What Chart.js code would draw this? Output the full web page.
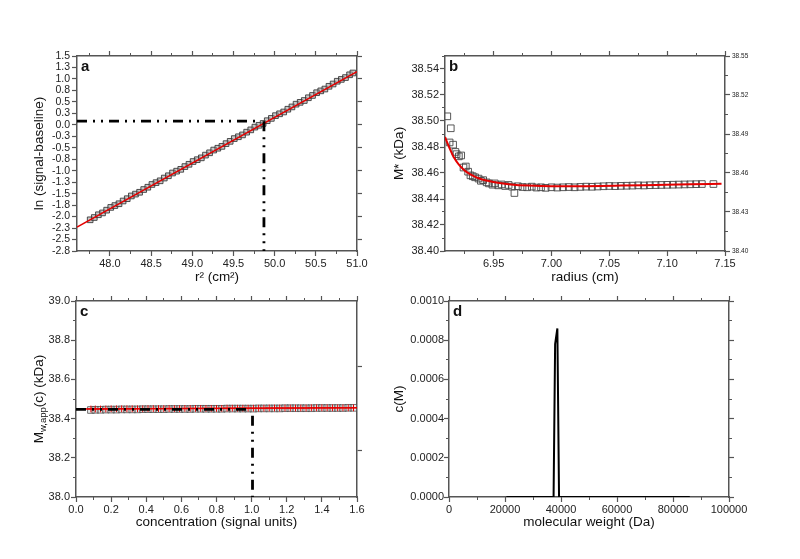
<!DOCTYPE html>
<html>
<head>
<meta charset="utf-8">
<script src="https://cdn.jsdelivr.net/npm/chart.js@4.4.1/dist/chart.umd.min.js"></script>
<style>
  html, body { margin: 0; padding: 0; background: #fff; }
  body { width: 800px; height: 559px; position: relative; overflow: hidden; }
  canvas { position: absolute; }
</style>
</head>
<body>
<canvas id="panelA" width="400" height="265" style="left:0;top:30px"></canvas>
<canvas id="panelB" width="420" height="265" style="left:380px;top:30px"></canvas>
<canvas id="panelC" width="400" height="274" style="left:0;top:285px"></canvas>
<canvas id="panelD" width="420" height="274" style="left:380px;top:285px"></canvas>
<script>
// panel a : ln(signal-baseline) vs r^2
const r2 = [47.76, 47.81, 47.86, 47.91, 47.96, 48.01, 48.06, 48.11, 48.16, 48.21,
  48.26, 48.31, 48.36, 48.41, 48.46, 48.51, 48.56, 48.61, 48.66, 48.71,
  48.76, 48.81, 48.86, 48.91, 48.96, 49.01, 49.06, 49.11, 49.16, 49.21,
  49.26, 49.31, 49.36, 49.41, 49.46, 49.51, 49.56, 49.61, 49.66, 49.71,
  49.76, 49.81, 49.86, 49.91, 49.96, 50.01, 50.06, 50.11, 50.16, 50.21,
  50.26, 50.31, 50.36, 50.41, 50.46, 50.51, 50.56, 50.61, 50.66, 50.71,
  50.76, 50.81, 50.86, 50.91, 50.95];
const lnSignal = [-2.07, -2.02, -1.96, -1.92, -1.86, -1.80, -1.76, -1.72, -1.66, -1.61,
  -1.55, -1.51, -1.47, -1.41, -1.36, -1.30, -1.26, -1.22, -1.16, -1.11,
  -1.05, -1.01, -0.97, -0.91, -0.86, -0.80, -0.76, -0.72, -0.66, -0.61,
  -0.55, -0.51, -0.47, -0.41, -0.36, -0.30, -0.26, -0.22, -0.16, -0.11,
  -0.05, -0.01, 0.03, 0.09, 0.14, 0.20, 0.24, 0.28, 0.34, 0.39,
  0.45, 0.49, 0.53, 0.59, 0.64, 0.70, 0.74, 0.78, 0.84, 0.89,
  0.95, 0.99, 1.03, 1.09, 1.13];
const r2Fit = [47.6, 51.0];
const lnFit = [-2.23, 1.16];
const r2GuideH = [47.6, 49.83], lnGuideH = [0.08, 0.08];
const r2GuideV = [49.87, 49.87], lnGuideV = [0.08, -2.75];

// panel b : M* vs radius
const radius = [6.910, 6.912, 6.913, 6.915, 6.917, 6.918, 6.920, 6.922, 6.924, 6.926,
  6.928, 6.930, 6.932, 6.934, 6.937, 6.939, 6.941, 6.944, 6.946, 6.949,
  6.951, 6.954, 6.957, 6.960, 6.963, 6.966, 6.968, 6.971, 6.975, 6.979,
  6.983, 6.987, 6.991, 6.995, 7.000, 7.005, 7.010, 7.015, 7.020, 7.025,
  7.030, 7.035, 7.040, 7.045, 7.050, 7.055, 7.060, 7.065, 7.070, 7.075,
  7.080, 7.085, 7.090, 7.095, 7.100, 7.105, 7.110, 7.115, 7.120, 7.125,
  7.130, 7.140];
const mStar = [38.5036, 38.4835, 38.4944, 38.4818, 38.4762, 38.4745, 38.4728, 38.4735, 38.4642, 38.4650,
  38.4610, 38.4582, 38.4575, 38.4567, 38.4557, 38.4540, 38.4545, 38.4528, 38.4520, 38.4510,
  38.4520, 38.4505, 38.4512, 38.4500, 38.4508, 38.4495, 38.4446, 38.4498, 38.4492, 38.4490,
  38.4495, 38.4488, 38.4490, 38.4486, 38.4490, 38.4488, 38.4490, 38.4492, 38.4490, 38.4493,
  38.4495, 38.4494, 38.4496, 38.4498, 38.4500, 38.4499, 38.4501, 38.4502, 38.4503, 38.4505,
  38.4504, 38.4506, 38.4507, 38.4508, 38.4509, 38.4510, 38.4511, 38.4512, 38.4513, 38.4514,
  38.4515, 38.4515];
const radiusFit = [6.908, 6.912, 6.916, 6.920, 6.925, 6.930, 6.937, 6.945, 6.955,
  6.965, 6.980, 7.000, 7.030, 7.060, 7.090, 7.120, 7.147];
const mStarFit = [38.4877, 38.4790, 38.4715, 38.4665, 38.4620, 38.4590, 38.4560, 38.4540, 38.4523,
  38.4512, 38.4503, 38.4498, 38.4499, 38.4503, 38.4508, 38.4513, 38.4517];

// panel c : Mw,app(c) vs concentration
const conc = [0.085, 0.11, 0.14, 0.17, 0.20, 0.23, 0.26, 0.29, 0.32, 0.35,
  0.38, 0.41, 0.44, 0.47, 0.50, 0.53, 0.56, 0.59, 0.62, 0.65,
  0.68, 0.71, 0.74, 0.77, 0.80, 0.83, 0.86, 0.89, 0.92, 0.95,
  0.98, 1.01, 1.04, 1.07, 1.10, 1.13, 1.16, 1.19, 1.22, 1.25,
  1.28, 1.31, 1.34, 1.37, 1.40, 1.43, 1.46, 1.49, 1.52, 1.55, 1.58];
const mwApp = [38.444, 38.445, 38.445, 38.446, 38.446, 38.446, 38.447, 38.447, 38.447, 38.447,
  38.448, 38.448, 38.448, 38.448, 38.448, 38.449, 38.449, 38.449, 38.449, 38.449,
  38.450, 38.450, 38.450, 38.450, 38.450, 38.450, 38.451, 38.451, 38.451, 38.451,
  38.451, 38.451, 38.452, 38.452, 38.452, 38.452, 38.452, 38.453, 38.453, 38.453,
  38.453, 38.453, 38.453, 38.454, 38.454, 38.454, 38.454, 38.454, 38.454, 38.455, 38.455];
const mwAppCross = [38.449, 38.449, 38.449, 38.449, 38.450, 38.450, 38.450, 38.450, 38.450, 38.450,
  38.450, 38.451, 38.451, 38.451, 38.451, 38.451, 38.451, 38.451, 38.452, 38.452,
  38.452, 38.452, 38.452, 38.452, 38.452, 38.452, 38.453, 38.453, 38.453, 38.453,
  38.453, 38.453, 38.453, 38.453, 38.454, 38.454, 38.454, 38.454, 38.454, 38.454,
  38.454, 38.454, 38.455, 38.455, 38.455, 38.455, 38.455, 38.455, 38.455, 38.455, 38.455];
const concFit = [0, 1.6], mwFit = [38.449, 38.455];
const concGuideH = [0, 1.0], mwGuideH = [38.447, 38.447];
const concGuideV = [1.005, 1.005], mwGuideV = [38.415, 38.0];

// panel d : c(M) distribution
const molWeight = [20500, 37350, 37900, 38700, 39300, 86000];
const cM = [0, 0, 0.00078, 0.00086, 0, 0];

const FONT = "'Liberation Sans', Arial, sans-serif";
const AXIS = '#555';
const RED = 'rgb(228,0,0)';

const pts = (xs, ys) => xs.map((x, i) => ({ x: x, y: ys[i] }));

// one labelled axis with long ticks, plus an inner one for the short minor ticks
function axes(id, pos, o) {
  const horiz = pos === 'top' || pos === 'bottom';
  const fit = size => s => { if (horiz) s.height = size; else s.width = size; };
  const res = {};
  res[id] = {
    type: 'linear', axis: horiz ? 'x' : 'y', position: pos, min: o.min, max: o.max, weight: 2,
    border: { color: AXIS, width: 1.5 },
    grid: { drawOnChartArea: false, tickLength: 5, tickColor: AXIS, tickWidth: 1.2 },
    ticks: {
      stepSize: o.major, includeBounds: false, autoSkip: false, maxRotation: 0,
      display: !!o.fmt, padding: o.pad || 0, color: '#222',
      font: { family: FONT, size: o.fontSize || 11 },
      callback: o.fmt || (() => ''),
    },
    title: o.title
      ? { display: true, text: o.title, color: '#111', font: { family: FONT, size: 13.5 }, padding: o.titlePad }
      : { display: false },
    afterFit: fit(o.size),
  };
  if (o.minor) {
    res[id + 'Minor'] = {
      type: 'linear', axis: horiz ? 'x' : 'y', position: pos, min: o.min, max: o.max, weight: 1,
      border: { display: false },
      grid: { drawOnChartArea: false, tickLength: 3, tickColor: AXIS, tickWidth: 1 },
      ticks: { stepSize: o.minor, includeBounds: false, display: false },
      afterFit: fit(0),
    };
  }
  return res;
}

const panelLetter = {
  id: 'panelLetter',
  afterDraw(chart, args, opts) {
    const { ctx, chartArea } = chart;
    ctx.save();
    ctx.font = 'bold 15px ' + FONT;
    ctx.fillStyle = '#111';
    ctx.textBaseline = 'alphabetic';
    ctx.fillText(opts.text, chartArea.left + 4, chartArea.top + 15);
    ctx.restore();
  }
};

// y title of panel c needs a subscript
const mwTitle = {
  id: 'mwTitle',
  afterDraw(chart) {
    const { ctx, chartArea } = chart;
    const big = '13.5px ' + FONT, small = '9.5px ' + FONT;
    ctx.save();
    ctx.font = big;
    const w1 = ctx.measureText('M').width;
    const w3 = ctx.measureText('(c) (kDa)').width;
    ctx.font = small;
    const w2 = ctx.measureText('w,app').width;
    ctx.translate(39, (chartArea.top + chartArea.bottom) / 2);
    ctx.rotate(-Math.PI / 2);
    ctx.textBaseline = 'middle';
    ctx.fillStyle = '#111';
    let x = -(w1 + w2 + w3) / 2;
    ctx.font = big; ctx.fillText('M', x, 0); x += w1;
    ctx.font = small; ctx.fillText('w,app', x, 4); x += w2;
    ctx.font = big; ctx.fillText('(c) (kDa)', x, 0);
    ctx.restore();
  }
};

function makeChart(id, letter, datasets, scales, extra) {
  return new Chart(document.getElementById(id), {
    type: 'scatter',
    data: { datasets: datasets },
    options: {
      responsive: false, animation: false, devicePixelRatio: 1, events: [],
      layout: { padding: 0 },
      plugins: { legend: { display: false }, tooltip: { enabled: false }, panelLetter: { text: letter } },
      scales: scales,
    },
    plugins: [panelLetter].concat(extra || []),
  });
}

const guide = (xs, ys) => ({
  data: pts(xs, ys), showLine: true, pointRadius: 0, borderColor: '#000',
  borderWidth: 2.8, borderDash: [10, 6, 2, 6, 2, 6],
});

makeChart('panelA', 'a', [
  guide(r2GuideV, lnGuideV),
  guide(r2GuideH, lnGuideH),
  { data: pts(r2Fit, lnFit), showLine: true, pointRadius: 0, borderColor: RED, borderWidth: 1.6 },
  { data: pts(r2, lnSignal), pointStyle: 'rect', pointRadius: 4, borderWidth: 1,
    borderColor: 'rgba(50,50,50,0.85)', backgroundColor: 'rgba(165,165,165,0.6)' },
], Object.assign({},
  axes('x', 'bottom', { min: 47.6, max: 51, major: 0.5, minor: 0.25, size: 44, pad: 1,
    fmt: v => v.toFixed(1), title: 'r² (cm²)', titlePad: { top: 0, bottom: 10 } }),
  axes('top', 'top', { min: 47.6, max: 51, major: 0.5, minor: 0.25, size: 26 }),
  axes('y', 'left', { min: -2.75, max: 1.5, major: 0.25, size: 77, pad: 2, fontSize: 10.5,
    fmt: v => v.toFixed(1), title: 'ln (signal-baseline)', titlePad: { top: 31, bottom: 0 } }),
  axes('right', 'right', { min: -2.75, max: 1.5, major: 0.5, size: 43 })
));

makeChart('panelB', 'b', [
  { data: pts(radiusFit, mStarFit), showLine: true, pointRadius: 0, borderColor: RED,
    borderWidth: 2, cubicInterpolationMode: 'monotone' },
  { data: pts(radius, mStar), pointStyle: 'rect', pointRadius: 4.7, borderWidth: 1,
    borderColor: 'rgba(70,70,70,0.9)', backgroundColor: 'rgba(255,255,255,0)' },
], Object.assign({},
  axes('x', 'bottom', { min: 6.908, max: 7.15, major: 0.05, minor: 0.025, size: 44, pad: 1,
    fmt: v => v.toFixed(2), title: 'radius (cm)', titlePad: { top: 0, bottom: 10 } }),
  axes('top', 'top', { min: 6.908, max: 7.15, major: 0.05, minor: 0.025, size: 26 }),
  axes('y', 'left', { min: 38.40, max: 38.55, major: 0.02, minor: 0.01, size: 65, pad: 1,
    fmt: v => v.toFixed(2), title: 'M* (kDa)', titlePad: { top: 11, bottom: 0 } }),
  axes('right', 'right', { min: 38.40, max: 38.55, major: 0.03, minor: 0.015, size: 75, pad: 2,
    fontSize: 6.5, fmt: v => v.toFixed(2) })
));

makeChart('panelC', 'c', [
  guide(concGuideV, mwGuideV),
  guide(concGuideH, mwGuideH),
  { data: pts(conc, mwAppCross), pointStyle: 'cross', pointRadius: 3.4, borderWidth: 1,
    borderColor: RED },
  { data: pts(concFit, mwFit), showLine: true, pointRadius: 0, borderColor: RED, borderWidth: 1.6 },
  { data: pts(conc, mwApp), pointStyle: 'rect', pointRadius: 4.7, borderWidth: 1,
    borderColor: 'rgba(80,80,80,0.8)', backgroundColor: 'rgba(200,200,200,0.35)' },
], Object.assign({},
  axes('x', 'bottom', { min: 0, max: 1.6, major: 0.2, minor: 0.1, size: 62, pad: 1,
    fmt: v => v.toFixed(1), title: 'concentration (signal units)', titlePad: { top: 0, bottom: 29 } }),
  axes('top', 'top', { min: 0, max: 1.6, major: 0.2, minor: 0.1, size: 16 }),
  axes('y', 'left', { min: 38, max: 39, major: 0.2, minor: 0.1, size: 76, pad: 1,
    fmt: v => v.toFixed(1) }),
  axes('right', 'right', { min: -0.55, max: 1.77, major: 1, size: 43 })
), [mwTitle]);

makeChart('panelD', 'd', [
  { data: pts(molWeight, cM), showLine: true, pointRadius: 0, borderColor: '#000', borderWidth: 2 },
], Object.assign({},
  axes('x', 'bottom', { min: 0, max: 100000, major: 20000, minor: 10000, size: 62, pad: 1,
    fmt: v => String(v), title: 'molecular weight (Da)', titlePad: { top: 0, bottom: 29 } }),
  axes('top', 'top', { min: 0, max: 100000, major: 20000, minor: 10000, size: 16 }),
  axes('y', 'left', { min: 0, max: 0.001, major: 0.0002, minor: 0.0001, size: 69, pad: 0,
    fmt: v => v.toFixed(4), title: 'c(M)', titlePad: { top: 11, bottom: 0 } }),
  axes('right', 'right', { min: 0, max: 0.001, major: 0.0002, minor: 0.0001, size: 71 })
));
</script>
</body>
</html>
